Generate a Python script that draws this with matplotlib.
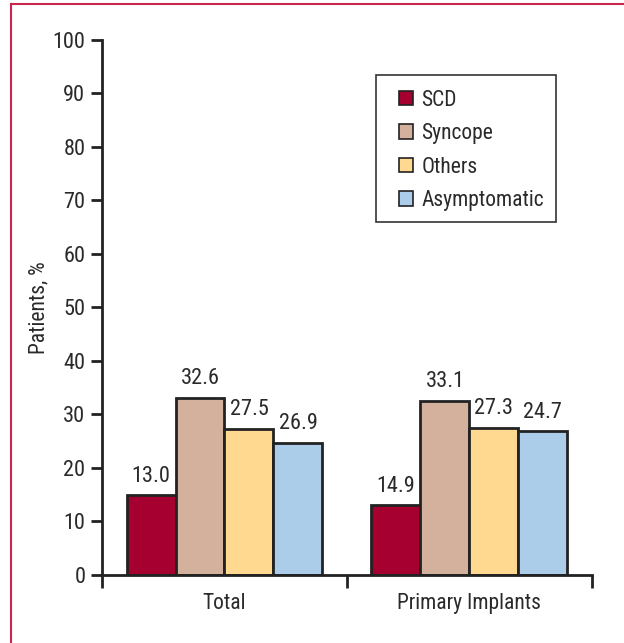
import numpy as np
import matplotlib
matplotlib.use('Agg')
from matplotlib import pyplot as plt
from matplotlib.patches import Patch, Rectangle

# groups and series (bar heights as drawn, value labels as printed)
groups = ['Total', 'Primary Implants']
series = ['SCD', 'Syncope', 'Others', 'Asymptomatic']
heights = {
    'SCD': [14.9, 13.0],
    'Syncope': [33.1, 32.6],
    'Others': [27.3, 27.5],
    'Asymptomatic': [24.7, 26.9],
}
value_labels = {
    'SCD': ['13.0', '14.9'],
    'Syncope': ['32.6', '33.1'],
    'Others': ['27.5', '27.3'],
    'Asymptomatic': ['26.9', '24.7'],
}
colors = ['#A60030', '#D3B19C', '#FFD98F', '#ABCDEA']

plt.rcParams['font.family'] = ['Roboto Condensed', 'Liberation Sans Narrow', 'Roboto', 'DejaVu Sans']
txt = '#2a2a2a'

fig = plt.figure(figsize=(6.24, 6.43), dpi=100)
ax = fig.add_axes([0.1635, 0.1058, 0.785, 0.832])

x = np.arange(len(groups))
w = 0.2
for i, s in enumerate(series):
    pos = x + (i - 1.5) * w
    ax.bar(pos, heights[s], width=w, color=colors[i], edgecolor='#222222', linewidth=2)
    for p, h, lab in zip(pos, heights[s], value_labels[s]):
        ax.text(p, h + 1.6, lab, ha='center', va='bottom', color=txt, fontsize=16)

ax.set_xlim(-0.5, 1.5)
ax.set_ylim(0, 100)
ax.set_yticks(np.arange(0, 101, 10))
ax.set_xticks(x)
ax.set_xticklabels(groups)
ax.set_xticks([-0.5, 0.5, 1.5], minor=True)
ax.tick_params(axis='x', which='major', length=0, pad=13, colors=txt, labelsize=15.5)
ax.tick_params(axis='x', which='minor', length=9, width=2, direction='out', color='#222222')
ax.tick_params(axis='y', length=8, width=2, direction='out', color='#222222', labelcolor=txt, labelsize=16, pad=4)
for sp in ['top', 'right']:
    ax.spines[sp].set_visible(False)
for sp in ['left', 'bottom']:
    ax.spines[sp].set_linewidth(2)
    ax.spines[sp].set_color('#222222')
ax.set_ylabel('Patients, %', color=txt, fontsize=15.5, labelpad=2)

# legend without frame, box drawn separately
handles = [Patch(facecolor=c, edgecolor='#222222', linewidth=1.2) for c in colors]
leg = ax.legend(handles, series, loc='upper left', bbox_to_anchor=(0.606, 0.907),
                frameon=False, fontsize=15.5,
                handlelength=0.65, handleheight=0.65, handletextpad=0.4,
                labelspacing=0.58, borderpad=0, borderaxespad=0)
for t in leg.get_texts():
    t.set_color(txt)
ax.add_patch(Rectangle((0.559, 0.6598), 0.3675, 0.2748, transform=ax.transAxes,
                       fill=False, edgecolor='#333333', linewidth=1.2, clip_on=False))

# crimson frame lines (top and left)
fig.add_artist(plt.Line2D([11/624, 11/624], [0, 1 - 4/643], transform=fig.transFigure, color='#C8264E', lw=1.5))
fig.add_artist(plt.Line2D([11/624, 1], [1 - 4/643, 1 - 4/643], transform=fig.transFigure, color='#C8264E', lw=1.5))

fig.savefig('out.png', dpi=100)
